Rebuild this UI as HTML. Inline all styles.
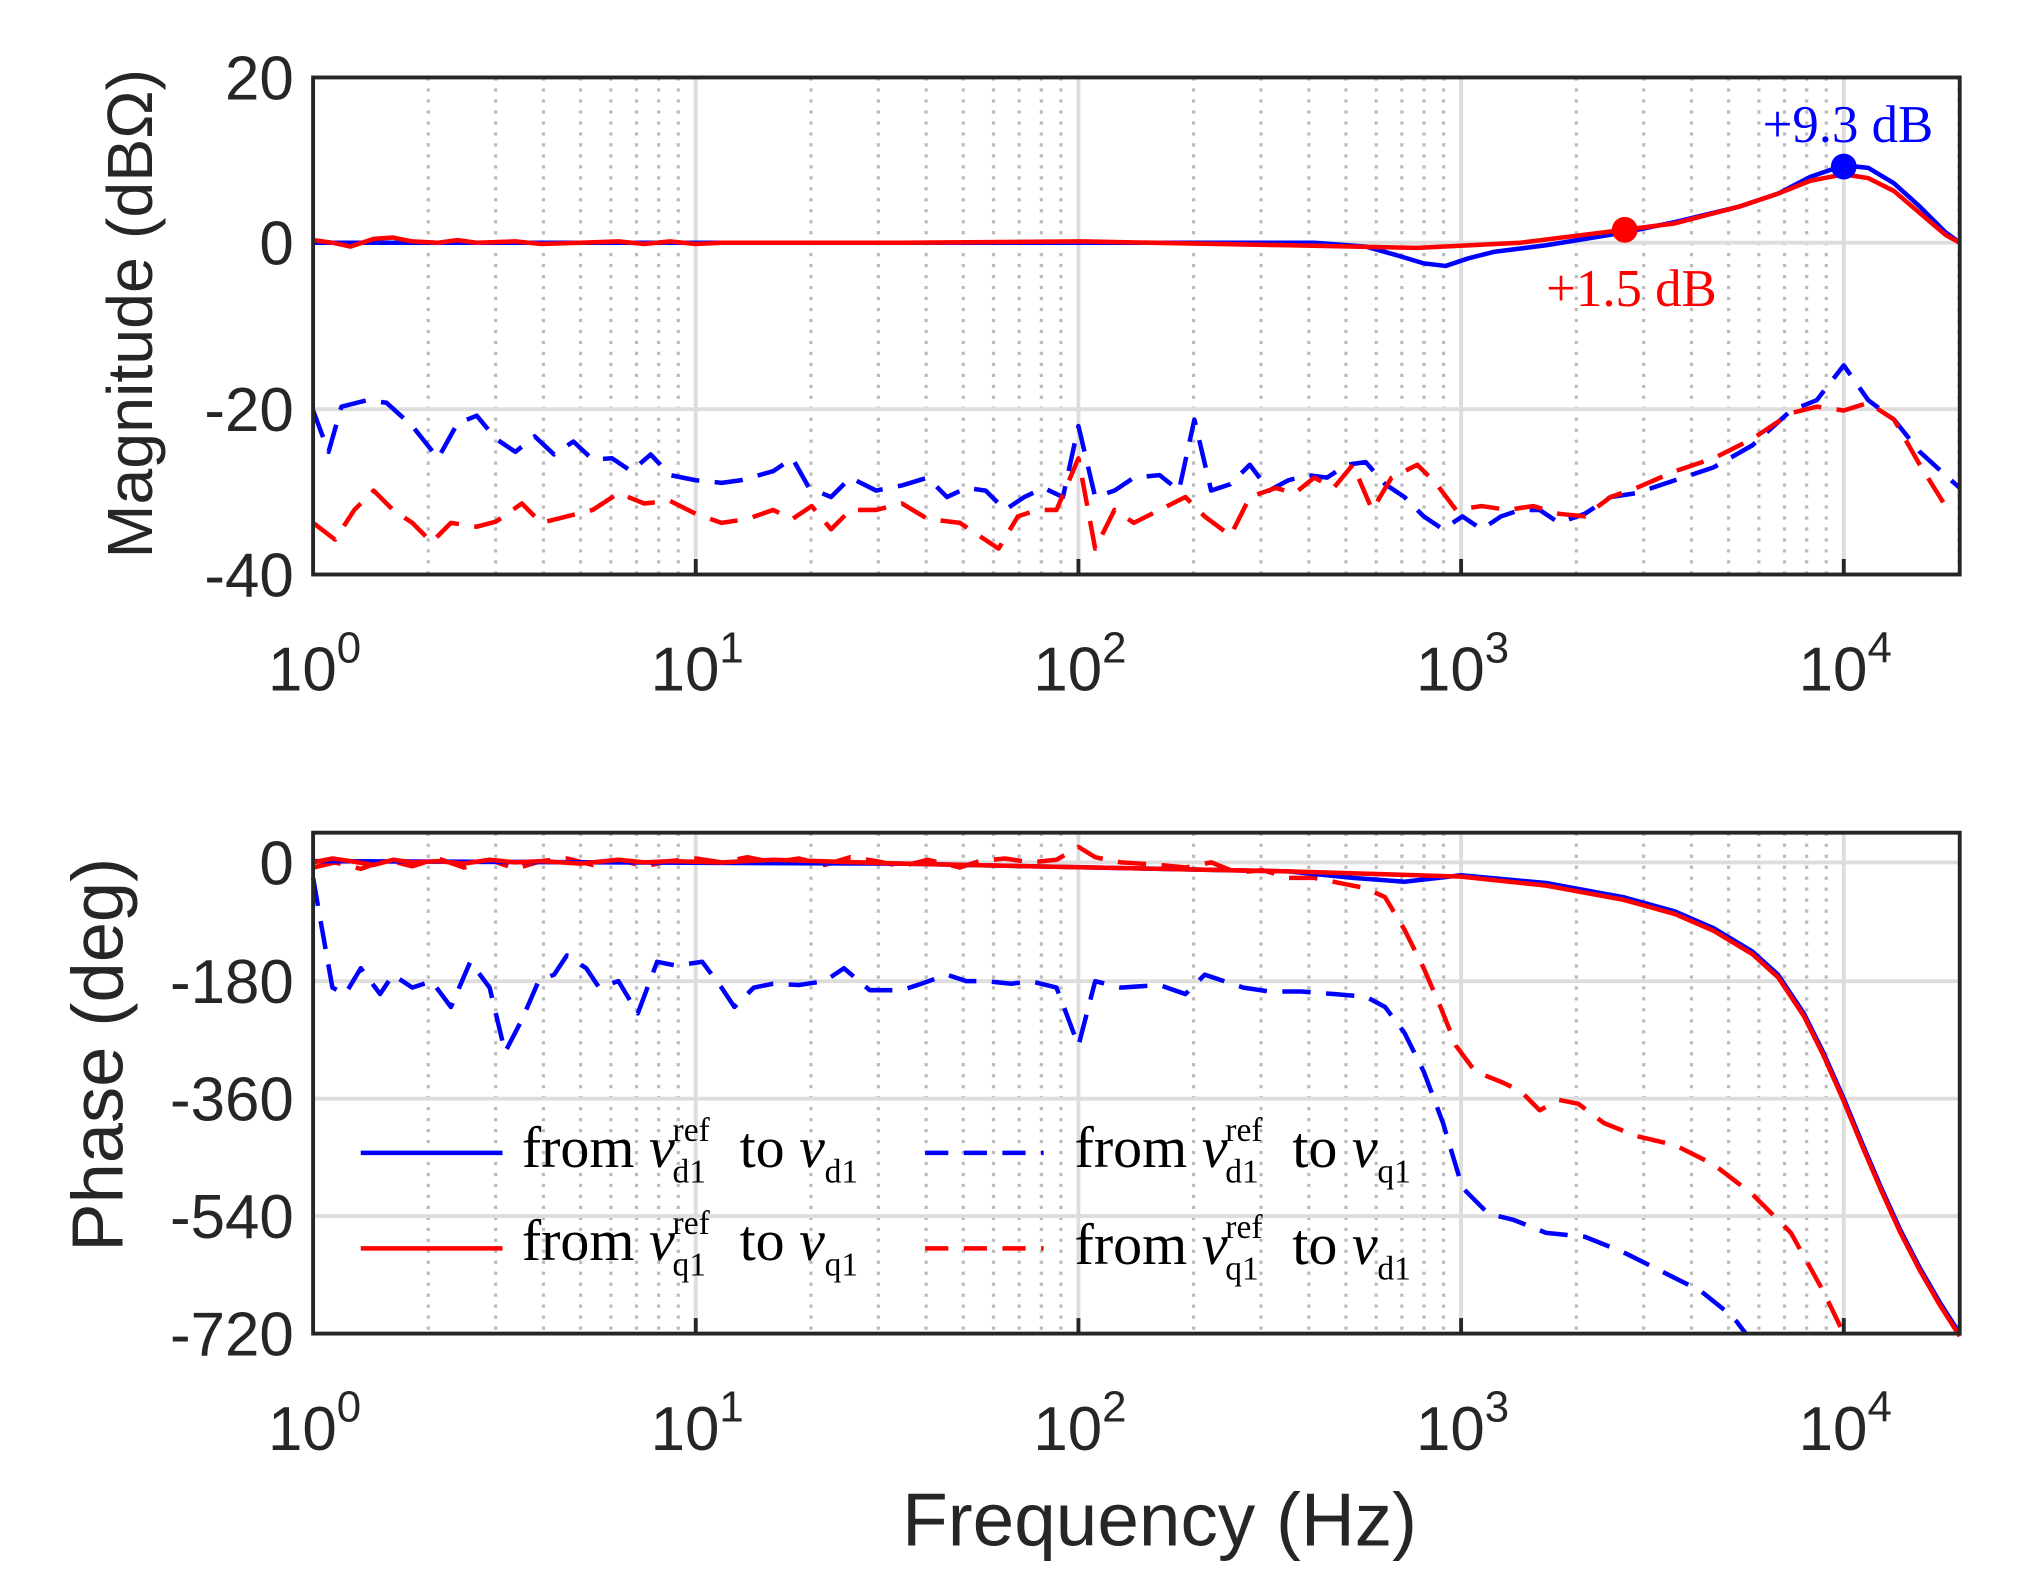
<!DOCTYPE html>
<html><head><style>html,body{margin:0;padding:0;background:#fff}svg{display:block}</style></head>
<body>
<svg width="2019" height="1575" viewBox="0 0 1567 1220" preserveAspectRatio="none" xmlns="http://www.w3.org/2000/svg">
<rect width="1567" height="1220" fill="#fff"/>
<!-- TOP PLOT grid -->
<g>
<g id="mtop" transform="translate(243,0)">
 <g stroke="#bbb" stroke-width="2.5" stroke-dasharray="2.5,6">
 <line x1="89.4" x2="89.4" y1="60" y2="445"/><line x1="141.7" x2="141.7" y1="60" y2="445"/><line x1="178.8" x2="178.8" y1="60" y2="445"/><line x1="207.6" x2="207.6" y1="60" y2="445"/><line x1="231.1" x2="231.1" y1="60" y2="445"/><line x1="251" x2="251" y1="60" y2="445"/><line x1="268.2" x2="268.2" y1="60" y2="445"/><line x1="283.4" x2="283.4" y1="60" y2="445"/>
 </g>
</g>
<use href="#mtop" transform="translate(297,0)"/><use href="#mtop" transform="translate(594,0)"/><use href="#mtop" transform="translate(891,0)"/>
<line x1="1520.4" x2="1520.4" y1="60" y2="445" stroke="#bbb" stroke-width="2.5" stroke-dasharray="2.5,6"/>
<g stroke="#ddd" stroke-width="3">
<line x1="540" x2="540" y1="60" y2="445"/><line x1="837" x2="837" y1="60" y2="445"/><line x1="1134" x2="1134" y1="60" y2="445"/><line x1="1431" x2="1431" y1="60" y2="445"/>
<line x1="243" x2="1521" y1="188" y2="188"/><line x1="243" x2="1521" y1="317" y2="317"/>
</g>
</g>
<!-- BOTTOM PLOT grid -->
<g>
<g id="mbot" transform="translate(243,0)">
 <g stroke="#bbb" stroke-width="2.5" stroke-dasharray="2.5,6">
 <line x1="89.4" x2="89.4" y1="645" y2="1033"/><line x1="141.7" x2="141.7" y1="645" y2="1033"/><line x1="178.8" x2="178.8" y1="645" y2="1033"/><line x1="207.6" x2="207.6" y1="645" y2="1033"/><line x1="231.1" x2="231.1" y1="645" y2="1033"/><line x1="251" x2="251" y1="645" y2="1033"/><line x1="268.2" x2="268.2" y1="645" y2="1033"/><line x1="283.4" x2="283.4" y1="645" y2="1033"/>
 </g>
</g>
<use href="#mbot" transform="translate(297,0)"/><use href="#mbot" transform="translate(594,0)"/><use href="#mbot" transform="translate(891,0)"/>
<g stroke="#ddd" stroke-width="3">
<line x1="540" x2="540" y1="645" y2="1033"/><line x1="837" x2="837" y1="645" y2="1033"/><line x1="1134" x2="1134" y1="645" y2="1033"/><line x1="1431" x2="1431" y1="645" y2="1033"/>
<line x1="243" x2="1521" y1="668" y2="668"/><line x1="243" x2="1521" y1="760" y2="760"/><line x1="243" x2="1521" y1="851" y2="851"/><line x1="243" x2="1521" y1="942" y2="942"/>
</g>
</g>

<!-- TOP data -->
<g fill="none" stroke-width="3.5" stroke-linejoin="round">
<polyline stroke="#0000ff" stroke-dasharray="22,12" points="243,318 255,350 265,315 285,310 300,312 320,330 340,355 355,328 370,322 385,340 400,350 415,338 430,352 445,342 460,356 475,355 490,365 505,352 520,368 540,372 560,374 575,372 600,365 615,355 628,378 645,385 660,370 680,380 700,376 720,370 735,385 750,378 765,380 780,395 795,385 810,378 825,385 837,330 850,385 865,380 880,370 900,368 915,380 927,325 940,380 955,375 970,360 985,380 1000,372 1015,368 1030,370 1045,360 1060,358 1075,375 1090,385 1105,400 1120,410 1135,400 1150,410 1165,400 1180,395 1195,395 1210,405 1230,398 1250,385 1270,382 1300,372 1330,362 1360,345 1390,318 1410,310 1431,283 1450,310 1470,325 1490,350 1521,378"/>
<polyline stroke="#ff0000" stroke-dasharray="22,12" points="243,405 260,418 275,395 290,380 305,395 320,405 335,420 350,405 370,408 385,404 405,390 420,405 440,400 460,395 480,382 500,390 520,388 540,398 560,405 580,402 600,395 615,402 630,392 645,410 660,395 680,395 700,390 720,402 745,405 760,415 775,425 790,400 805,395 820,395 837,355 850,425 865,395 880,405 900,395 920,385 935,400 955,415 970,385 990,378 1005,382 1020,370 1035,378 1050,360 1065,395 1080,370 1100,360 1115,375 1130,395 1150,392 1170,395 1190,392 1210,398 1230,400 1250,385 1270,378 1300,365 1330,355 1360,340 1390,320 1410,315 1431,318 1450,312 1470,325 1490,360 1510,392"/>
<polyline stroke="#0000ff" points="243,188 700,188 1020,188 1060,191 1085,198 1105,204 1122,206 1140,200 1160,195 1200,190 1261,180 1300,172 1350,160 1380,150 1405,137 1431,128 1450,130 1470,142 1490,160 1510,180 1521,188"/>
<polyline stroke="#ff0000" points="243,186 258,188 272,191 290,185 305,184 320,187 340,188 355,186 370,188 400,187 420,189 450,188 480,187 500,189 520,187 540,189 560,188 700,188 840,187 1000,190 1100,192 1180,188 1261,178 1300,173 1350,160 1380,150 1405,140 1431,135 1450,138 1470,148 1490,165 1510,182 1521,188"/>
</g>
<circle cx="1261" cy="178" r="10" fill="#ff0000"/>
<circle cx="1431" cy="129" r="10" fill="#0000ff"/>
<text x="1368" y="110" font-family="Liberation Serif, serif" font-size="41" fill="#0000ff">+9.3 dB</text>
<text x="1200" y="237" font-family="Liberation Serif, serif" font-size="41" fill="#ff0000">+1.5 dB</text>

<!-- BOTTOM data -->
<g fill="none" stroke-width="3.5" stroke-linejoin="round">
<polyline stroke="#0000ff" stroke-dasharray="22,12" points="243,680 250,720 258,765 268,770 280,750 295,770 305,755 320,765 335,760 350,780 365,745 380,765 392,815 405,790 418,760 430,755 440,740 455,750 465,765 480,760 495,785 510,745 525,748 545,745 560,765 570,780 585,765 600,762 620,763 640,760 655,750 675,767 700,767 715,762 735,755 750,760 765,760 785,762 800,760 820,765 837,810 850,760 870,765 900,763 920,770 935,755 950,760 965,765 985,768 1010,768 1035,770 1060,772 1075,780 1090,800 1105,830 1120,870 1135,920 1155,940 1175,945 1200,955 1230,958 1260,970 1290,985 1320,1000 1345,1020 1355,1033"/>
<polyline stroke="#ff0000" stroke-dasharray="22,12" points="243,672 260,668 280,673 300,666 320,671 340,665 360,672 380,666 400,673 420,667 440,665 460,670 480,666 500,671 520,667 540,665 560,668 580,664 600,668 620,665 640,670 660,664 680,667 700,671 720,666 745,672 760,667 780,665 800,668 820,666 837,656 850,664 870,668 900,670 920,672 940,668 960,676 980,674 1000,680 1020,680 1040,684 1060,688 1075,695 1090,720 1105,750 1118,780 1130,810 1145,830 1165,838 1180,845 1195,860 1210,852 1225,855 1245,870 1270,880 1300,887 1330,902 1360,925 1390,955 1415,1000 1431,1033"/>
<polyline stroke="#0000ff" points="243,667 700,669 1000,675 1050,680 1090,683 1134,678 1200,684 1260,695 1300,706 1330,719 1360,737 1380,755 1400,785 1415,815 1431,851 1445,885 1460,920 1475,953 1490,982 1505,1008 1521,1033"/>
<polyline stroke="#ff0000" points="243,668 258,665 272,667 290,670 305,666 320,668 340,667 360,669 380,666 400,668 420,667 450,669 480,666 500,668 520,667 560,668 600,666 700,669 1000,675 1134,679 1200,686 1260,697 1300,708 1330,721 1360,739 1380,757 1400,787 1415,817 1431,853 1445,887 1460,922 1475,955 1490,984 1505,1010 1521,1035"/>
</g>

<!-- Legend -->
<g stroke-width="3.5">
<line x1="280" x2="390" y1="893" y2="893" stroke="#0000ff"/>
<line x1="280" x2="390" y1="967" y2="967" stroke="#ff0000"/>
<line x1="718" x2="810" y1="893" y2="893" stroke="#0000ff" stroke-dasharray="18,12"/>
<line x1="718" x2="810" y1="967" y2="967" stroke="#ff0000" stroke-dasharray="18,12"/>
</g>
<g font-family="Liberation Serif, serif" font-size="45" fill="#000">
<text x="405" y="904">from <tspan font-style="italic">v</tspan></text>
<text x="522" y="884" font-size="26">ref</text><text x="522" y="916" font-size="26">d1</text>
<text x="574" y="904">to <tspan font-style="italic">v</tspan></text><text x="640" y="916" font-size="26">d1</text>
<text x="405" y="976">from <tspan font-style="italic">v</tspan></text>
<text x="522" y="956" font-size="26">ref</text><text x="522" y="988" font-size="26">q1</text>
<text x="574" y="976">to <tspan font-style="italic">v</tspan></text><text x="640" y="988" font-size="26">q1</text>
<text x="834" y="904">from <tspan font-style="italic">v</tspan></text>
<text x="951" y="884" font-size="26">ref</text><text x="951" y="916" font-size="26">d1</text>
<text x="1003" y="904">to <tspan font-style="italic">v</tspan></text><text x="1069" y="916" font-size="26">q1</text>
<text x="834" y="979">from <tspan font-style="italic">v</tspan></text>
<text x="951" y="959" font-size="26">ref</text><text x="951" y="991" font-size="26">q1</text>
<text x="1003" y="979">to <tspan font-style="italic">v</tspan></text><text x="1069" y="991" font-size="26">d1</text>
</g>

<!-- Axes boxes -->
<g fill="none" stroke="#262626" stroke-width="3">
<rect x="243" y="60" width="1278" height="385"/>
<rect x="243" y="645" width="1278" height="388"/>
</g>
<g stroke="#262626" stroke-width="3">
<line x1="540" x2="540" y1="445" y2="433"/><line x1="837" x2="837" y1="445" y2="433"/><line x1="1134" x2="1134" y1="445" y2="433"/><line x1="1431" x2="1431" y1="445" y2="433"/>
<line x1="540" x2="540" y1="1033" y2="1021"/><line x1="837" x2="837" y1="1033" y2="1021"/><line x1="1134" x2="1134" y1="1033" y2="1021"/><line x1="1431" x2="1431" y1="1033" y2="1021"/>
</g>

<!-- Tick labels -->
<g font-family="Liberation Sans, sans-serif" font-size="48" fill="#262626">
<g text-anchor="end">
<text x="228" y="77">20</text><text x="228" y="205">0</text><text x="228" y="334">-20</text><text x="228" y="462">-40</text>
<text x="228" y="685">0</text><text x="228" y="777">-180</text><text x="228" y="868">-360</text><text x="228" y="959">-540</text><text x="228" y="1050">-720</text>
</g>
<g>
<text x="208" y="535">10<tspan font-size="34" dy="-22">0</tspan></text>
<text x="505" y="535">10<tspan font-size="34" dy="-22">1</tspan></text>
<text x="802" y="535">10<tspan font-size="34" dy="-22">2</tspan></text>
<text x="1099" y="535">10<tspan font-size="34" dy="-22">3</tspan></text>
<text x="1396" y="535">10<tspan font-size="34" dy="-22">4</tspan></text>
</g>
<g>
<text x="208" y="1123">10<tspan font-size="34" dy="-22">0</tspan></text>
<text x="505" y="1123">10<tspan font-size="34" dy="-22">1</tspan></text>
<text x="802" y="1123">10<tspan font-size="34" dy="-22">2</tspan></text>
<text x="1099" y="1123">10<tspan font-size="34" dy="-22">3</tspan></text>
<text x="1396" y="1123">10<tspan font-size="34" dy="-22">4</tspan></text>
</g>
<text x="900" y="1197" text-anchor="middle" font-size="58">Frequency (Hz)</text>
<text transform="translate(118,243) rotate(-90)" text-anchor="middle" font-size="50">Magnitude (dBΩ)</text>
<text transform="translate(95,817) rotate(-90)" text-anchor="middle" font-size="56">Phase (deg)</text>
</g>
</svg>
</body></html>
